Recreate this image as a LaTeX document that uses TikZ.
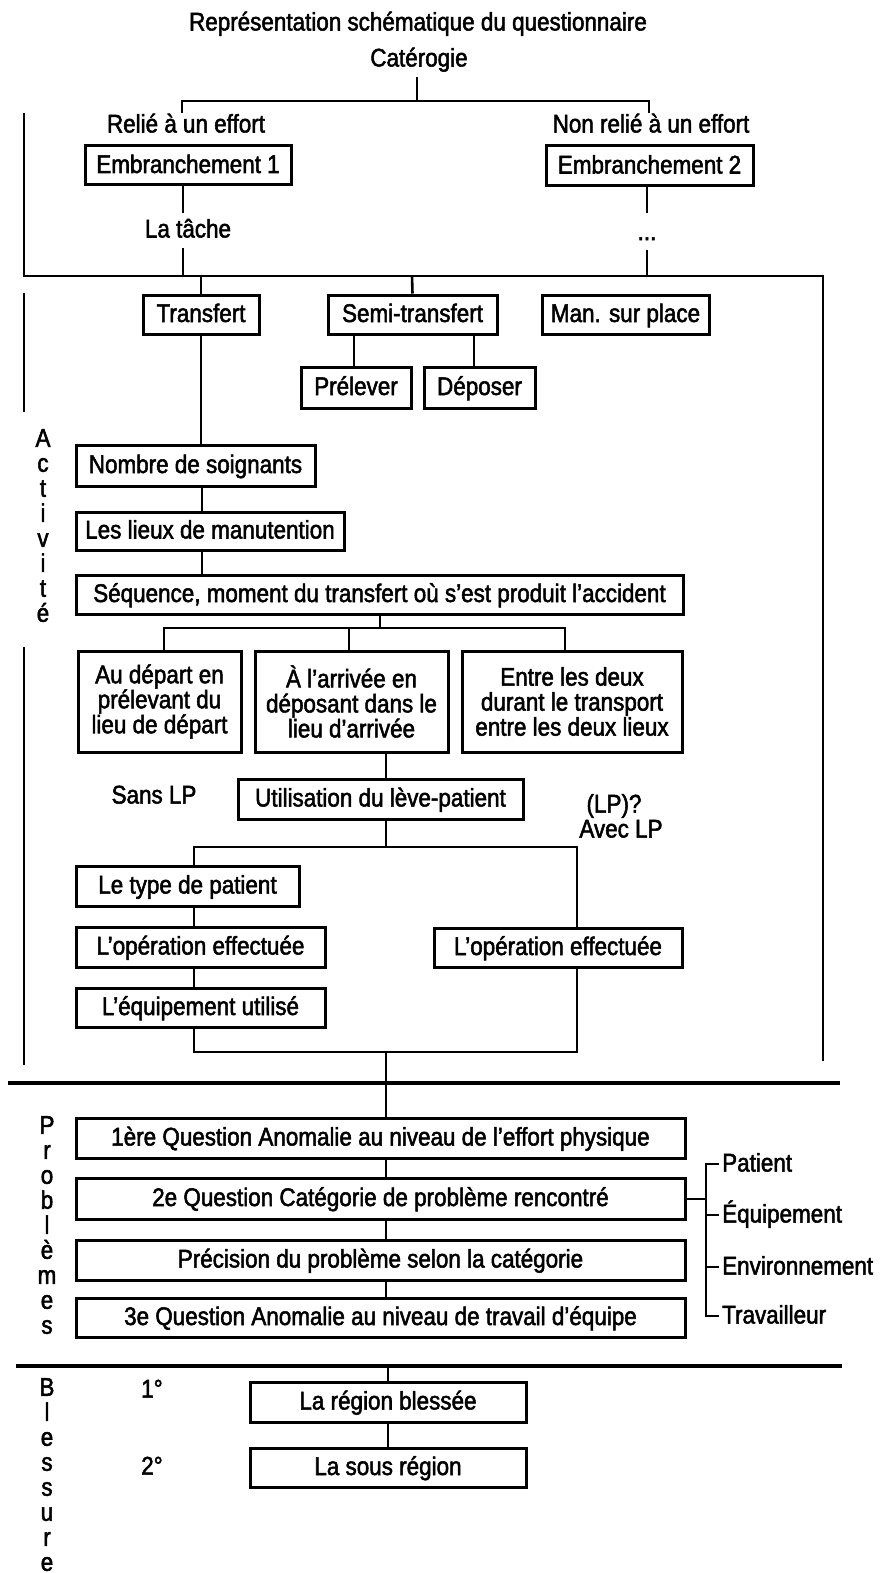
\documentclass[tikz,border=0pt]{standalone}
\usepackage{fontspec}
\setmainfont{Liberation Sans}[FakeStretch=0.88, FakeBold=2]
\begin{document}
\begin{tikzpicture}[x=1pt,y=-1pt,
  every node/.style={font=\fontsize{25.5}{25}\selectfont, inner sep=0pt},
  lbl/.style={text height=19pt, text depth=4pt},
  box/.style={draw, line width=3pt, text height=19pt, text depth=4pt},
  boxm/.style={draw, line width=3pt, align=center},
  conn/.style={line width=2.6pt},
  sepline/.style={line width=3.4pt},
  vlet/.style={align=center, anchor=north}]
\useasboundingbox (0,0) rectangle (883,1573);

% ---- top
\node[lbl] (title) at (418,23) {Représentation schématique du questionnaire};
\node[lbl] (cat) at (419,59) {Catérogie};
\node[lbl] (relie) at (186,125) {Relié à un effort};
\node[lbl] (nonrelie) at (651,125) {Non relié à un effort};
\node[box,minimum width=206,minimum height=39] (emb1) at (188,165.5) {Embranchement 1};
\node[box,minimum width=207,minimum height=40] (emb2) at (649.5,166) {Embranchement 2};
\node[lbl] (tache) at (188,230) {La tâche};
\node[anchor=base] (dots) at (647,240) {...};

\coordinate (c0) at (417,77);
\coordinate (cL) at (182,101);
\coordinate (cR) at (649,101);
\draw[conn] (c0) -- (c0 |- cL);
\draw[conn] ([yshift=-12pt]cL) -- (cL) -- (cR) -- ([yshift=-12pt]cR);

\coordinate (j1) at (183,276);
\coordinate (j1a) at (183,213);
\coordinate (j1b) at (183,248);
\draw[conn] (emb1.south -| j1) -- (j1a);
\draw[conn] (j1b) -- (j1);
\coordinate (j2) at (647,276);
\coordinate (j2a) at (647,213);
\coordinate (j2b) at (647,250);
\draw[conn] (emb2.south -| j2) -- (j2a);
\draw[conn] (j2b) -- (j2);

% frame
\coordinate (fTL) at (24,113);
\coordinate (fBL) at (24,276);
\coordinate (fBR) at (823,276);
\coordinate (fEnd) at (823,1061);
\draw[conn] (fTL) -- (fBL) -- (fBR) -- (fEnd);
\coordinate (a1) at (24,293);
\coordinate (a2) at (24,412);
\coordinate (a3) at (24,647);
\coordinate (a4) at (24,1065);
\draw[conn] (a1) -- (a2);
\draw[conn] (a3) -- (a4);

% ---- activité
\node[vlet] (act) at (43,429) {\fontsize{25.5}{21.4}\selectfont A\\c\\t\\i\\v\\i\\t\\é};

\node[box,minimum width=116,minimum height=39] (transf) at (201,314.5) {Transfert};
\node[box,minimum width=169,minimum height=39] (semi) at (412.5,314.5) {Semi-transfert};
\node[box,minimum width=167,minimum height=39] (man) at (625.5,314.5) {Man. sur place};
\node[box,minimum width=110,minimum height=41] (prel) at (356,387.5) {Prélever};
\node[box,minimum width=111,minimum height=41] (depo) at (479.5,387.5) {Déposer};
\coordinate (jt) at (201,276);
\coordinate (js) at (412,276);
\draw[conn] (jt) -- (transf.north);
\draw[conn] (js) -- (semi.north);
\draw[conn] (semi.south -| 354,0) -- (prel.north -| 354,0);
\draw[conn] (semi.south -| 474,0) -- (depo.north -| 474,0);

\node[box,minimum width=239,minimum height=41] (nomb) at (195.5,465.5) {Nombre de soignants};
\node[box,minimum width=268,minimum height=38] (lieux) at (210,531) {Les lieux de manutention};
\node[box,minimum width=607,minimum height=39] (seq) at (379.5,594.5) {Séquence, moment du transfert où s’est produit l’accident};
\draw[conn] (transf.south) -- (nomb.north -| transf.south);
\draw[conn] (nomb.south -| 202,0) -- (lieux.north -| 202,0);
\draw[conn] (lieux.south -| 202,0) -- (seq.north -| 202,0);

\node[boxm,minimum width=163,minimum height=101] (dep) at (159.5,701.5) {Au départ en\\prélevant du\\lieu de départ};
\node[boxm,minimum width=193,minimum height=101] (arr) at (351.5,701.5) {À l’arrivée en\\déposant dans le\\lieu d’arrivée};
\node[boxm,minimum width=220,minimum height=101] (entre) at (572,701.5) {Entre les deux\\durant le transport\\entre les deux lieux};
\coordinate (sq) at (380,628);
\coordinate (sqL) at (164,628);
\coordinate (sqM) at (349,628);
\coordinate (sqR) at (565,628);
\draw[conn] (seq.south -| sq) -- (sq);
\draw[conn] (dep.north -| sqL) -- (sqL) -- (sqR) -- (entre.north -| sqR);
\draw[conn] (sqM) -- (arr.north -| sqM);

\node[box,minimum width=285,minimum height=40] (util) at (380.5,799) {Utilisation du lève-patient};
\node[lbl] (sans) at (154,796) {Sans LP};
\node[lbl] (lpq) at (614,805) {(LP)?};
\node[lbl] (avec) at (621,830) {Avec LP};
\coordinate (u0) at (386,847);
\draw[conn] (arr.south -| u0) -- (util.north -| u0);
\draw[conn] (util.south -| u0) -- (u0);

\node[box,minimum width=223,minimum height=40] (type) at (187.5,886) {Le type de patient};
\node[box,minimum width=249,minimum height=40] (opl) at (200.5,947) {L’opération effectuée};
\node[box,minimum width=248,minimum height=39] (opr) at (558,947.5) {L’opération effectuée};
\node[box,minimum width=249,minimum height=39] (equip) at (200.5,1007.5) {L’équipement utilisé};
\coordinate (uL) at (194,847);
\coordinate (uR) at (577,847);
\coordinate (bL) at (194,1052);
\coordinate (bR) at (577,1052);
\coordinate (bM) at (386,1052);
\draw[conn] (type.north -| uL) -- (uL) -- (uR) -- (opr.north -| uR);
\draw[conn] (type.south -| uL) -- (opl.north -| uL);
\draw[conn] (opl.south -| uL) -- (equip.north -| uL);
\draw[conn] (equip.south -| uL) -- (bL) -- (bR) -- (opr.south -| bR);

% ---- problèmes
\coordinate (s1L) at (8,1083);
\coordinate (s1R) at (840,1083);
\draw[sepline] (s1L) -- (s1R);
\node[vlet] (prob) at (47,1116) {\fontsize{25.5}{25.7}\selectfont P\\r\\o\\b\\l\\è\\m\\e\\s};

\node[box,minimum width=609,minimum height=40] (q1) at (380.5,1138) {1ère Question Anomalie au niveau de l’effort physique};
\node[box,minimum width=609,minimum height=41] (q2) at (380.5,1198.5) {2e Question Catégorie de problème rencontré};
\node[box,minimum width=609,minimum height=40] (prec) at (380.5,1260) {Précision du problème selon la catégorie};
\node[box,minimum width=609,minimum height=39] (q3) at (380.5,1317.5) {3e Question Anomalie au niveau de travail d’équipe};
\draw[conn] (bM) -- (q1.north -| bM);
\draw[conn] (q1.south -| bM) -- (q2.north -| bM);
\draw[conn] (q2.south -| bM) -- (prec.north -| bM);
\draw[conn] (prec.south -| bM) -- (q3.north -| bM);

\node[lbl,anchor=west] (pat) at (722,1164) {Patient};
\node[lbl,anchor=west] (equ) at (722,1215) {Équipement};
\node[lbl,anchor=west] (env) at (722,1267) {Environnement};
\node[lbl,anchor=west] (trav) at (722,1316) {Travailleur};
\coordinate (br) at (706,1199);
\draw[conn] (q2.east |- br) -- (br);
\draw[conn] ([xshift=-3pt]pat.west) -- (pat.west -| br) -- (trav.west -| br) -- ([xshift=-3pt]trav.west);
\draw[conn] (equ.west -| br) -- ([xshift=-3pt]equ.west);
\draw[conn] (env.west -| br) -- ([xshift=-3pt]env.west);

% ---- blessure
\coordinate (s2L) at (16,1366);
\coordinate (s2R) at (842,1366);
\draw[sepline] (s2L) -- (s2R);
\node[vlet] (bles) at (47,1378) {\fontsize{25.5}{23.6}\selectfont B\\l\\e\\s\\s\\u\\r\\e};
\node[lbl] (n1) at (152,1390) {1°};
\node[lbl] (n2) at (152,1467) {2°};
\node[box,minimum width=276,minimum height=40] (reg) at (388,1402) {La région blessée};
\node[box,minimum width=276,minimum height=39] (sous) at (388,1467.5) {La sous région};
\coordinate (r0) at (388,1366);
\draw[conn] (r0) -- (reg.north);
\draw[conn] (reg.south) -- (sous.north);
\end{tikzpicture}
\end{document}
